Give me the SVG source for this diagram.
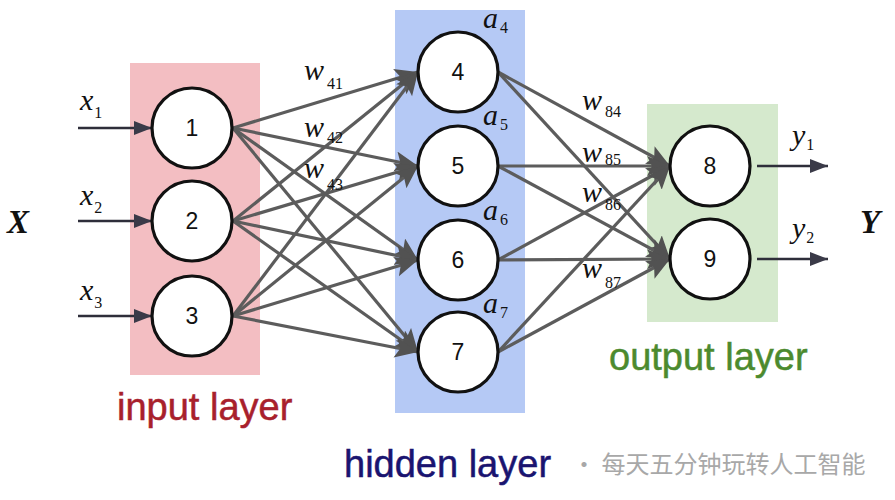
<svg xmlns="http://www.w3.org/2000/svg" width="895" height="500" viewBox="0 0 895 500">
<defs>
<marker id="ah" markerUnits="userSpaceOnUse" markerWidth="26" markerHeight="22" refX="23" refY="10" orient="auto"><path d="M0,0 L23,10 L0,20 L5,10 z" fill="#525252"/></marker>
<marker id="ai" markerUnits="userSpaceOnUse" markerWidth="20" markerHeight="16" refX="18" refY="7" orient="auto"><path d="M0,0 L18,7 L0,14 z" fill="#3a3a48"/></marker>
<style>
.node circle{fill:#fff;stroke:#111;stroke-width:3.2}
.node text{font-family:"Liberation Sans",Arial,sans-serif;font-size:23px;fill:#111;text-anchor:middle}
.e{stroke:#5c5c5c;stroke-width:3.2;fill:none;marker-end:url(#ah)}
.io{stroke:#2e2e3a;stroke-width:2.5;fill:none;marker-end:url(#ai)}
.m{font-family:"Liberation Serif","Times New Roman",serif;font-style:italic;fill:#111}
.w{font-size:30px}
.s{font-size:16px;font-style:normal}
.lay{font-family:"Liberation Sans",Arial,sans-serif;font-size:38px;stroke-width:0.5}
</style>
</defs>
<rect x="130" y="63" width="130" height="312" fill="#f3bec2"/>
<rect x="395" y="10" width="130" height="403" fill="#b5c9f5"/>
<rect x="647" y="104" width="131" height="218" fill="#d5e9cd"/>
<g id="connectors">
<line class="io" x1="78" y1="128" x2="152" y2="128"/>
<line class="io" x1="78" y1="221" x2="152" y2="221"/>
<line class="io" x1="78" y1="316" x2="152" y2="316"/>
<line class="e" x1="233" y1="128" x2="418" y2="72"/>
<line class="e" x1="233" y1="128" x2="418" y2="166"/>
<line class="e" x1="233" y1="128" x2="418" y2="260"/>
<line class="e" x1="233" y1="128" x2="418" y2="352"/>
<line class="e" x1="233" y1="221" x2="418" y2="72"/>
<line class="e" x1="233" y1="221" x2="418" y2="166"/>
<line class="e" x1="233" y1="221" x2="418" y2="260"/>
<line class="e" x1="233" y1="221" x2="418" y2="352"/>
<line class="e" x1="233" y1="316" x2="418" y2="72"/>
<line class="e" x1="233" y1="316" x2="418" y2="166"/>
<line class="e" x1="233" y1="316" x2="418" y2="260"/>
<line class="e" x1="233" y1="316" x2="418" y2="352"/>
<line class="e" x1="498" y1="72" x2="670" y2="166"/>
<line class="e" x1="498" y1="72" x2="670" y2="259"/>
<line class="e" x1="498" y1="166" x2="670" y2="166"/>
<line class="e" x1="498" y1="166" x2="670" y2="259"/>
<line class="e" x1="498" y1="260" x2="670" y2="166"/>
<line class="e" x1="498" y1="260" x2="670" y2="259"/>
<line class="e" x1="498" y1="352" x2="670" y2="166"/>
<line class="e" x1="498" y1="352" x2="670" y2="259"/>
<line class="io" x1="757" y1="166" x2="828" y2="166"/>
<line class="io" x1="757" y1="259" x2="828" y2="259"/>
</g>
<g id="n1" class="node"><circle cx="192" cy="128" r="40"/><text x="192" y="136">1</text></g>
<g id="n2" class="node"><circle cx="192" cy="221" r="40"/><text x="192" y="229">2</text></g>
<g id="n3" class="node"><circle cx="192" cy="316" r="40"/><text x="192" y="324">3</text></g>
<g id="n4" class="node"><circle cx="458" cy="72" r="40"/><text x="458" y="80">4</text></g>
<g id="n5" class="node"><circle cx="458" cy="166" r="40"/><text x="458" y="174">5</text></g>
<g id="n6" class="node"><circle cx="458" cy="260" r="40"/><text x="458" y="268">6</text></g>
<g id="n7" class="node"><circle cx="458" cy="352" r="40"/><text x="458" y="360">7</text></g>
<g id="n8" class="node"><circle cx="710" cy="166" r="40"/><text x="710" y="174">8</text></g>
<g id="n9" class="node"><circle cx="710" cy="259" r="40"/><text x="710" y="267">9</text></g>
<g id="labels">
<text class="m" x="7" y="233" font-size="33" font-weight="bold">X</text>
<text class="m" x="860" y="233" font-size="33" font-weight="bold">Y</text>
<text class="m w" x="80" y="110">x<tspan class="s" dx="1" dy="8">1</tspan></text>
<text class="m w" x="80" y="205">x<tspan class="s" dx="1" dy="8">2</tspan></text>
<text class="m w" x="80" y="300">x<tspan class="s" dx="1" dy="8">3</tspan></text>
<text class="m w" x="792" y="145">y<tspan class="s" dx="1" dy="5">1</tspan></text>
<text class="m w" x="792" y="238">y<tspan class="s" dx="1" dy="5">2</tspan></text>
<text class="m w" x="304" y="80">w<tspan class="s" dx="3" dy="9">41</tspan></text>
<text class="m w" x="304" y="137">w<tspan class="s" dx="3" dy="6">42</tspan></text>
<text class="m w" x="304" y="178">w<tspan class="s" dx="3" dy="12">43</tspan></text>
<text class="m w" x="582" y="110">w<tspan class="s" dx="3" dy="7">84</tspan></text>
<text class="m w" x="582" y="162">w<tspan class="s" dx="3" dy="3">85</tspan></text>
<text class="m w" x="582" y="202">w<tspan class="s" dx="3" dy="8">86</tspan></text>
<text class="m w" x="582" y="278">w<tspan class="s" dx="3" dy="10">87</tspan></text>
<text class="m w" x="483" y="28">a<tspan class="s" dx="2" dy="5">4</tspan></text>
<text class="m w" x="483" y="125">a<tspan class="s" dx="2" dy="5">5</tspan></text>
<text class="m w" x="483" y="220">a<tspan class="s" dx="2" dy="5">6</tspan></text>
<text class="m w" x="483" y="313">a<tspan class="s" dx="2" dy="5">7</tspan></text>
<text class="lay" x="117" y="420" fill="#a8202c" stroke="#a8202c">input layer</text>
<text class="lay" x="344" y="477" fill="#1a1470" stroke="#1a1470">hidden layer</text>
<text class="lay" x="609" y="370" fill="#4c8a2e" stroke="#4c8a2e">output layer</text>
<text x="572" y="473" font-family="'Noto Sans CJK SC',sans-serif" font-size="24" fill="#a8a8a8">· 每天五分钟玩转人工智能</text>
</g>
</svg>
